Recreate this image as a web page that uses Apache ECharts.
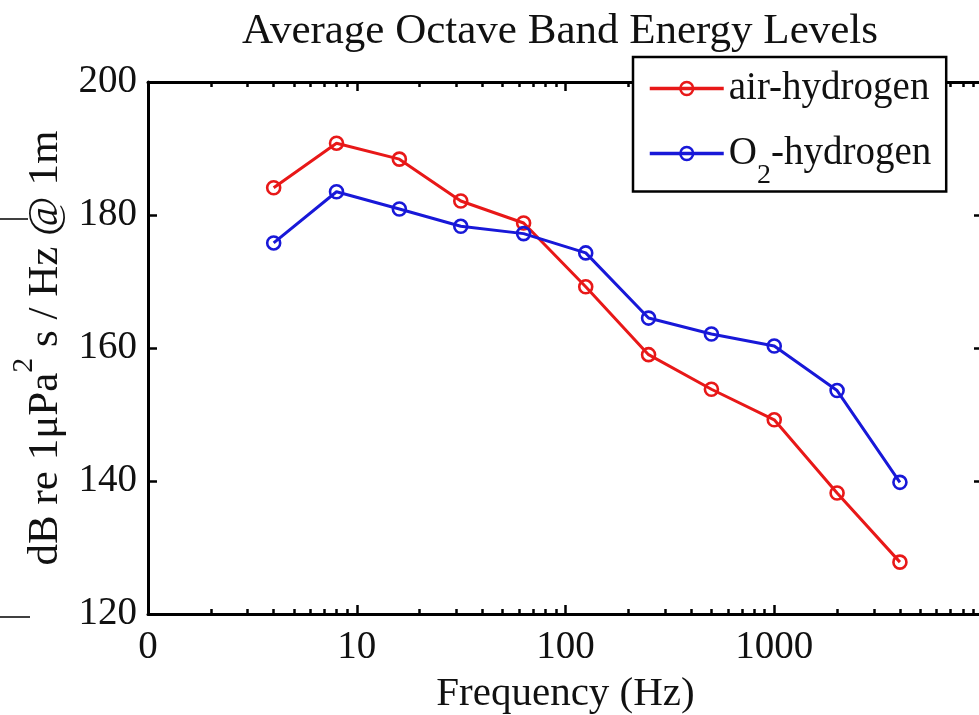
<!DOCTYPE html>
<html><head><meta charset="utf-8">
<script src="https://cdn.jsdelivr.net/npm/echarts@6/dist/echarts.min.js"></script>
<style>html,body{margin:0;padding:0;background:#fff}#c{width:979px;height:715px}</style>
</head><body><div id="c"></div>
<script>
// ---- data ----
const freqs = [4, 8, 16, 31.5, 63, 125, 250, 500, 1000, 2000, 4000];
const airHydrogen = [184.1, 190.8, 188.4, 182.1, 178.8, 169.2, 159.0, 153.8, 149.2, 138.2, 127.8];
const o2Hydrogen  = [175.8, 183.5, 180.9, 178.3, 177.2, 174.3, 164.5, 162.1, 160.3, 153.6, 139.8];
const seriesNames = ['air-hydrogen', 'O2-hydrogen'];
const xTickLabels = {1: '0', 10: '10', 100: '100', 1000: '1000', 10000: ''};
const xMinorTicks = [2,3,4,5,6,7,8,9, 20,30,40,50,60,70,80,90, 200,300,400,500,600,700,800,900, 2000,3000,4000,5000,6000,7000,8000,9000];
const yTicks = [120, 140, 160, 180, 200];

const FONT = '"Liberation Serif", "Times New Roman", serif';
const RED = '#e81818';
const BLUE = '#1818d8';
const chart = echarts.init(document.getElementById('c'), null, {renderer: 'canvas'});

function pairs(vals) { return freqs.map((f, i) => [f, vals[i]]); }

const axisLineStyle = {color: '#000', width: 3};
const baseX = {type: 'log', logBase: 10, min: 1, max: 10000, gridIndex: 0};

chart.setOption({
  animation: false,
  backgroundColor: '#fff',
  title: {
    text: 'Average Octave Band Energy Levels',
    left: 555, textAlign: 'center', top: 5,
    textStyle: {fontFamily: FONT, fontSize: 43, fontWeight: 'normal', color: '#111'}
  },
  grid: {left: 148, right: -4, top: 82, bottom: 101, containLabel: false, outerBoundsMode: 'none'},
  legend: {
    orient: 'vertical', left: 633, top: 57,
    data: seriesNames,
    backgroundColor: '#fff', borderColor: '#000', borderWidth: 2.5, borderRadius: 0,
    padding: [12, 15, 2, 15],
    itemWidth: 74, itemHeight: 16, itemGap: 26,
    z: 10,
    lineStyle: {width: 3.5},
    itemStyle: {borderWidth: 2.5},
    formatter: function (n) {
      return n === 'O2-hydrogen' ? '{n|O}{s|2}{n|-hydrogen}' : '{n|air-hydrogen}';
    },
    textStyle: {
      fontFamily: FONT, fontSize: 39, color: '#111', padding: [0, 0, 0, 0],
      rich: {
        n: {fontFamily: FONT, fontSize: 39, color: '#111', lineHeight: 44, verticalAlign: 'middle'},
        s: {fontFamily: FONT, fontSize: 28, color: '#111', lineHeight: 72, verticalAlign: 'bottom'}
      }
    }
  },
  xAxis: [
    Object.assign({}, baseX, {
      position: 'bottom',
      axisLine: {show: true, onZero: false, lineStyle: axisLineStyle},
      axisTick: {show: true, inside: true, length: 9, lineStyle: {color: '#000', width: 2.5}},
      axisLabel: {
        show: true, margin: 14, fontFamily: FONT, fontSize: 39, color: '#111',
        showMaxLabel: false,
        formatter: v => (xTickLabels[Math.round(v)] !== undefined ? xTickLabels[Math.round(v)] : String(v))
      },
      splitLine: {show: false},
      name: 'Frequency (Hz)', nameLocation: 'middle', nameGap: 60,
      nameTextStyle: {fontFamily: FONT, fontSize: 41, color: '#111'}
    }),
    Object.assign({}, baseX, {
      position: 'bottom',
      axisLine: {show: false, onZero: false},
      axisTick: {show: true, inside: true, length: 5, customValues: xMinorTicks, lineStyle: {color: '#000', width: 2.5}},
      axisLabel: {show: false}, splitLine: {show: false}
    }),
    Object.assign({}, baseX, {
      position: 'top',
      axisLine: {show: true, onZero: false, lineStyle: axisLineStyle},
      axisTick: {show: true, inside: true, length: 9, lineStyle: {color: '#000', width: 2.5}},
      axisLabel: {show: false}, splitLine: {show: false}
    }),
    Object.assign({}, baseX, {
      position: 'top',
      axisLine: {show: false, onZero: false},
      axisTick: {show: true, inside: true, length: 5, customValues: xMinorTicks, lineStyle: {color: '#000', width: 2.5}},
      axisLabel: {show: false}, splitLine: {show: false}
    })
  ],
  yAxis: [
    {
      type: 'value', min: 120, max: 200, interval: 20, position: 'left',
      axisLine: {show: true, onZero: false, lineStyle: axisLineStyle},
      axisTick: {show: true, inside: true, length: 9, customValues: yTicks, lineStyle: {color: '#000', width: 2.5}},
      axisLabel: {margin: 11, fontFamily: FONT, fontSize: 39, color: '#111', customValues: yTicks},
      splitLine: {show: false},
      name: '{a|dB re 1μPa}{s|2}{a| s / Hz @ 1m}',
      nameLocation: 'middle', nameGap: 62, nameRotate: 90,
      nameTextStyle: {
        fontFamily: FONT, fontSize: 43, color: '#111',
        rich: {
          a: {fontFamily: FONT, fontSize: 43, color: '#111', lineHeight: 48, verticalAlign: 'middle'},
          s: {fontFamily: FONT, fontSize: 30, color: '#111', lineHeight: 74, verticalAlign: 'top'}
        }
      }
    },
    {
      type: 'value', min: 120, max: 200, interval: 20, position: 'right',
      axisLine: {show: true, onZero: false, lineStyle: axisLineStyle},
      axisTick: {show: true, inside: true, length: 9, lineStyle: {color: '#000', width: 2.5}},
      axisLabel: {show: false}, splitLine: {show: false}
    }
  ],
  series: [
    {
      name: seriesNames[0], type: 'line', xAxisIndex: 0, yAxisIndex: 0,
      data: pairs(airHydrogen),
      symbol: 'circle', symbolSize: 13,
      lineStyle: {color: RED, width: 3},
      itemStyle: {color: 'rgba(255,255,255,0)', borderColor: RED, borderWidth: 2.6},
      z: 3
    },
    {
      name: seriesNames[1], type: 'line', xAxisIndex: 0, yAxisIndex: 0,
      data: pairs(o2Hydrogen),
      symbol: 'circle', symbolSize: 13,
      lineStyle: {color: BLUE, width: 3},
      itemStyle: {color: 'rgba(255,255,255,0)', borderColor: BLUE, borderWidth: 2.6},
      z: 4
    }
  ],
  graphic: [
    {type: 'line', shape: {x1: 0, y1: 219, x2: 28, y2: 219}, style: {stroke: '#000', lineWidth: 1.5}},
    {type: 'line', shape: {x1: 0, y1: 617, x2: 30, y2: 617}, style: {stroke: '#000', lineWidth: 1.5}}
  ]
});
</script>
</body></html>
